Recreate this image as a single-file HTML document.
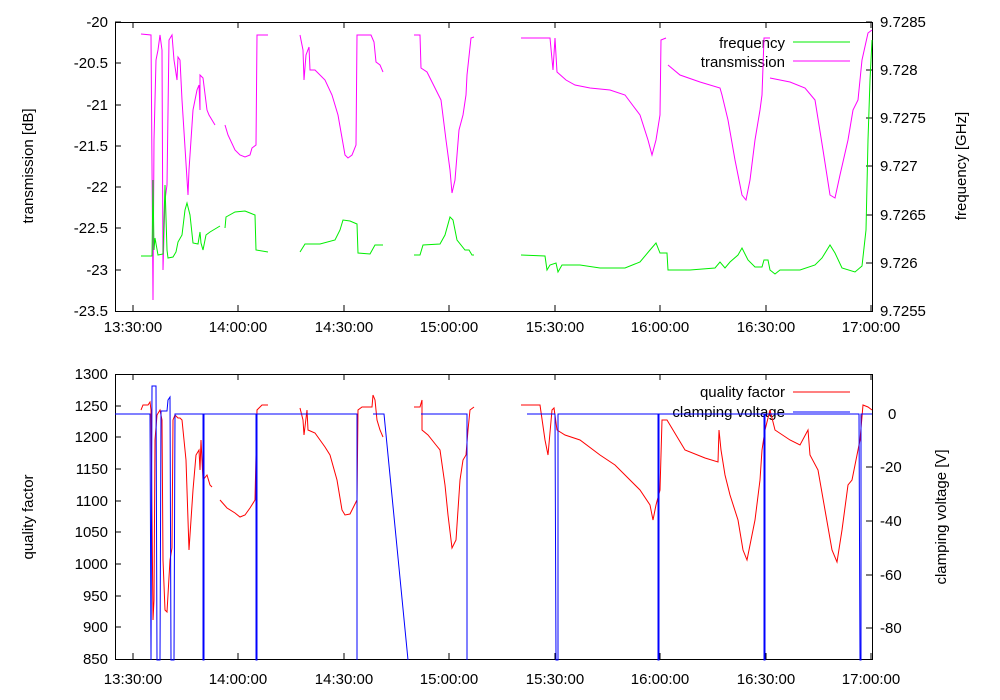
<!DOCTYPE html>
<html><head><style>body{margin:0;background:#fff}svg{display:block}text{font-family:"Liberation Sans",sans-serif;font-size:15px;fill:#000}</style></head><body>
<svg width="1000" height="700" xmlns="http://www.w3.org/2000/svg">
<g stroke="#000" stroke-width="1" fill="none">
<rect x="115.5" y="22.5" width="757" height="289"/>
<rect x="115.5" y="374.5" width="757" height="285"/>
<path d="M115 22h6M115 63h6M115 105h6M115 146h6M115 187h6M115 228h6M115 270h6M872 22h-6M872 70h-6M872 118h-6M872 166h-6M872 215h-6M872 263h-6
M133 311v-6M238 311v-6M344 311v-6M449 311v-6M555 311v-6M660 311v-6M766 311v-6M871 311v-6
M133 22v6M238 22v6M344 22v6M449 22v6M555 22v6M660 22v6M766 22v6M871 22v6
M115 406h6M115 437h6M115 469h6M115 501h6M115 532h6M115 564h6M115 596h6M115 627h6
M872 414h-6M872 467h-6M872 521h-6M872 575h-6M872 628h-6
M133 659v-6M238 659v-6M344 659v-6M449 659v-6M555 659v-6M660 659v-6M766 659v-6M871 659v-6
M133 374v6M238 374v6M344 374v6M449 374v6M555 374v6M660 374v6M766 374v6M871 374v6"/>
</g>
<g text-anchor="end">
<text x="108" y="27">-20</text><text x="108" y="68">-20.5</text><text x="108" y="110">-21</text><text x="108" y="151">-21.5</text><text x="108" y="192">-22</text><text x="108" y="233">-22.5</text><text x="108" y="275">-23</text><text x="108" y="316">-23.5</text>
<text x="108" y="379">1300</text><text x="108" y="411">1250</text><text x="108" y="442">1200</text><text x="108" y="474">1150</text><text x="108" y="506">1100</text><text x="108" y="537">1050</text><text x="108" y="569">1000</text><text x="108" y="601">950</text><text x="108" y="632">900</text><text x="108" y="664">850</text>
</g>
<g text-anchor="start">
<text x="880" y="27">9.7285</text><text x="880" y="75">9.728</text><text x="880" y="123">9.7275</text><text x="880" y="171">9.727</text><text x="880" y="220">9.7265</text><text x="880" y="268">9.726</text><text x="880" y="316">9.7255</text>
<text x="888" y="419">0</text><text x="880" y="472">-20</text><text x="880" y="526">-40</text><text x="880" y="580">-60</text><text x="880" y="633">-80</text>
</g>
<g text-anchor="middle">
<text x="133" y="332">13:30:00</text><text x="238" y="332">14:00:00</text><text x="344" y="332">14:30:00</text><text x="449" y="332">15:00:00</text><text x="555" y="332">15:30:00</text><text x="660" y="332">16:00:00</text><text x="766" y="332">16:30:00</text><text x="871" y="332">17:00:00</text>
<text x="133" y="684">13:30:00</text><text x="238" y="684">14:00:00</text><text x="344" y="684">14:30:00</text><text x="449" y="684">15:00:00</text><text x="555" y="684">15:30:00</text><text x="660" y="684">16:00:00</text><text x="766" y="684">16:30:00</text><text x="871" y="684">17:00:00</text>
<text transform="translate(33,166) rotate(-90)">transmission [dB]</text>
<text transform="translate(966,166) rotate(-90)">frequency [GHz]</text>
<text transform="translate(33,517) rotate(-90)">quality factor</text>
<text transform="translate(946,517) rotate(-90)">clamping voltage [V]</text>
</g>
<g text-anchor="end"><text x="785" y="48">frequency</text><text x="785" y="67">transmission</text><text x="785" y="397">quality factor</text><text x="785" y="417">clamping voltage</text></g>
<g fill="none" stroke-width="1">
<path stroke="#00ee00" d="M793 42h57"/><path stroke="#ff00ff" d="M793 61h57"/><path stroke="#ff0000" d="M793 392h57"/><path stroke="#0000ff" d="M793 412h57"/>
<polyline stroke="#ff00ff" points="141,34 151,35 153,300 154,140 156,60 158,50 160,35 162,50 163,270 165,200 167,185 169,40 172,35 174,60 177,80 178,57 180,60 182,100 188,195 189,170 193,110 197,90 199,85 200,110 200,75 203,78 207,110 209,115 212,120 215,125"/>
<polyline stroke="#ff00ff" points="225,125 228,135 235,150 240,155 245,157 250,155 252,148 256,145 257,35 268,35"/>
<polyline stroke="#ff00ff" points="300,35 303,50 304,80 306,55 309,47 310,70 315,70 325,80 332,95 338,115 345,155 348,158 352,155 356,145 357,35 371,35 374,42 376,62 380,65 383,72"/>
<polyline stroke="#ff00ff" points="414,35 420,35 421,68 427,72 436,90 441,100 446,140 450,170 452,193 455,180 459,130 463,115 466,95 467,75 471,38 474,37"/>
<polyline stroke="#ff00ff" points="521,38 550,38 553,70 555,38 557,72 566,80 575,85 590,88 610,90 625,95 640,115 648,140 652,155 656,140 660,115 661,40 666,38"/>
<polyline stroke="#ff00ff" points="668,65 680,75 700,82 720,88 722,95 728,120 735,160 742,195 746,200 750,180 755,140 760,110 762,95 764,38 770,38"/>
<polyline stroke="#ff00ff" points="770,78 790,82 805,88 815,100 823,150 830,195 835,198 840,175 848,140 853,110 858,100 862,60 868,33 872,30"/>
<polyline stroke="#00ee00" points="141,256 152,256 153,180 154,250 155,238 158,255 163,254 165,185 167,250 168,258 173,257 176,252 178,242 182,235 185,210 187,203 190,215 193,243 198,244 200,232 201,243 203,250 206,235 210,232 215,229 220,226"/>
<polyline stroke="#00ee00" points="225,228 226,217 235,212 245,211 250,213 255,215 256,250 268,252"/>
<polyline stroke="#00ee00" points="300,252 305,244 320,244 335,240 340,230 343,220 350,221 357,224 358,253 370,254 375,245 383,245"/>
<polyline stroke="#00ee00" points="414,255 420,255 423,245 440,244 445,235 450,217 453,220 457,240 465,250 469,250 472,255 474,255"/>
<polyline stroke="#00ee00" points="521,255 545,256 547,270 550,265 556,263 558,272 562,265 580,265 600,268 625,268 640,262 650,250 656,243 660,253 667,253 668,270 690,270 715,268 720,262 725,268 730,262 738,255 742,248 748,260 755,267 762,267 764,260 768,260 770,270 775,274 780,270 800,270 815,265 822,258 830,245 835,253 842,268 855,272 862,266 866,230 868,140 870,80 872,40"/>
<polyline stroke="#ff0000" points="141,410 143,405 148,405 150,402 151,410 153,620 154,600 155,440 157,415 160,410 162,420 163,560 165,610 167,612 170,560 172,548 173,420 175,415 178,418 180,418 182,420 186,460 189,550 193,490 196,455 199,450 200,470 201,440 203,480 207,475 210,485 212,487"/>
<polyline stroke="#ff0000" points="220,500 227,508 235,513 240,517 245,515 250,508 255,500 257,410 262,405 268,405"/>
<polyline stroke="#ff0000" points="300,408 303,420 304,435 307,410 308,430 315,433 325,447 330,455 337,480 342,510 345,515 350,514 354,506 357,500 358,410 362,407 372,407 373,395 375,400 377,420 380,430 383,437"/>
<polyline stroke="#ff0000" points="414,407 420,407 422,400 422,430 428,435 436,445 440,450 445,485 448,515 452,548 456,540 460,480 463,460 466,455 468,430 470,410 474,407"/>
<polyline stroke="#ff0000" points="521,405 540,405 545,440 548,455 552,410 554,408 557,430 565,435 580,440 600,455 615,465 625,475 640,490 650,505 653,520 656,505 660,490 662,420 667,420 685,450 705,458 718,462 719,430 721,450 725,475 730,495 738,520 743,550 747,560 751,540 755,520 760,480 762,450 765,430 770,410 775,430 790,440 800,445 808,430 810,455 818,470 825,510 832,550 837,562 842,530 848,485 852,480 856,460 860,440 863,405 868,407 872,410"/>
<polyline stroke="#0000ff" points="115,414 150,414 151,660 152,386 156,386 157,660 160,660 161,411 167,411 168,400 170,397 171,660 174,660 175,414 203,414 203,660 204,660 204,414 256,414 256,660 257,660 257,414 357,414 357,660"/>
<polyline stroke="#0000ff" points="373,414 384,414 408,660"/>
<polyline stroke="#0000ff" points="421,414 467,414 467,660"/>
<polyline stroke="#0000ff" points="527,414 555,414 556,660 558,660 558,414 658,414 658,660 659,660 659,414 764,414 764,660 765,660 765,414 859,414 860,660 861,660 861,414 872,414"/>
</g>
</svg>
</body></html>
